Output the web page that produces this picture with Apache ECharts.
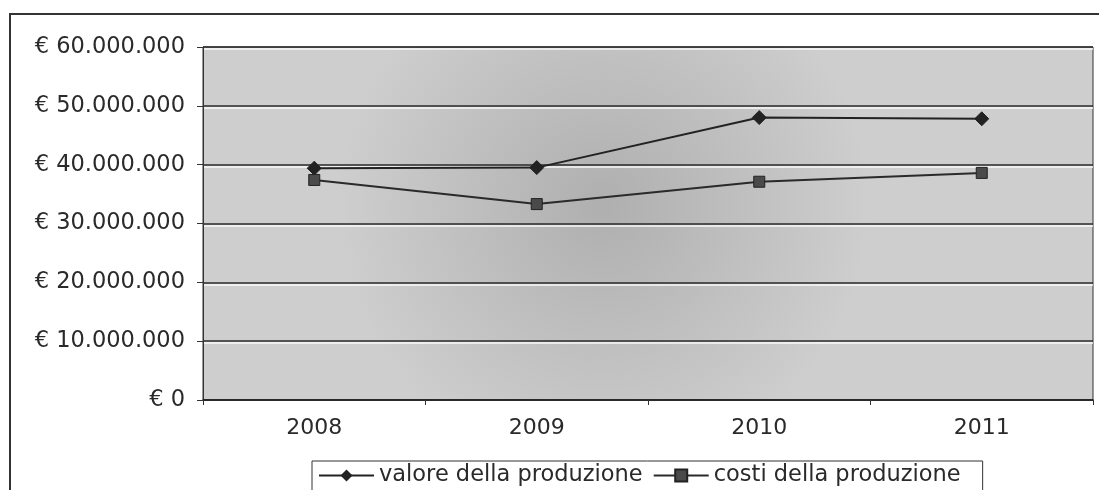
<!DOCTYPE html>
<html>
<head>
<meta charset="utf-8">
<script src="https://cdn.jsdelivr.net/npm/echarts@6/dist/echarts.min.js"></script>
<style>
  html, body { margin: 0; padding: 0; background: #fff; }
  #chart { width: 1099px; height: 490px; }
</style>
</head>
<body>
<div id="chart"></div>
<script>
// Values (euro)
const years = ['2008', '2009', '2010', '2011'];
const valoreProduzione = [39400000, 39500000, 48000000, 47800000];
const costiProduzione = [37400000, 33300000, 37100000, 38600000];
const yMax = 60000000;
const yStep = 10000000;

const FONT = 'DejaVu Sans, Verdana, sans-serif';
const INK = '#2a2a2a';

// Italian thousands separator: € 60.000.000
const euro = (v) => '€ ' + String(v).replace(/\B(?=(\d{3})+(?!\d))/g, '.');

const chart = echarts.init(document.getElementById('chart'));
chart.setOption({
  animation: false,
  backgroundColor: '#fff',
  textStyle: { fontFamily: FONT, color: INK },
  graphic: [{
    // outer chart frame (only top and left edges visible in the scan)
    type: 'rect',
    shape: { x: 10, y: 14, width: 1200, height: 600 },
    style: { fill: 'none', stroke: '#333', lineWidth: 2 },
    silent: true,
  }],
  grid: {
    left: 203, right: 6, top: 47, bottom: 90,
    show: true,
    borderColor: '#333',
    borderWidth: 1,
    backgroundColor: {
      type: 'radial', x: 0.45, y: 0.45, r: 0.75,
      colorStops: [
        { offset: 0, color: '#afafaf' },
        { offset: 1, color: '#cecece' },
      ],
    },
  },
  legend: {
    left: 312,
    top: 461,
    itemWidth: 55,
    itemHeight: 15,
    itemGap: 10,
    padding: [3, 22, 8, 6],
    borderColor: '#333',
    borderWidth: 1,
    backgroundColor: '#fff',
    textStyle: { fontFamily: FONT, fontSize: 22.5, color: INK },
    data: ['valore della produzione', 'costi della produzione'],
  },
  xAxis: {
    type: 'category',
    data: years,
    boundaryGap: true,
    axisLine: { lineStyle: { color: '#222', width: 1.5 } },
    axisTick: { show: true, length: 5, lineStyle: { color: '#333' } },
    axisLabel: { fontFamily: FONT, fontSize: 22, color: INK, margin: 17 },
  },
  yAxis: {
    type: 'value',
    min: 0,
    max: yMax,
    interval: yStep,
    axisLine: { show: true, lineStyle: { color: '#333' } },
    axisTick: { show: true, length: 6, lineStyle: { color: '#333' } },
    axisLabel: { fontFamily: FONT, fontSize: 22.5, color: INK, margin: 18, formatter: euro },
    splitLine: {
      lineStyle: {
        color: '#2a2a2a', width: 1.5,
        shadowColor: 'rgba(255,255,255,0.9)', shadowOffsetY: 2, shadowBlur: 0,
      },
    },
  },
  series: [
    {
      name: 'valore della produzione',
      type: 'line',
      data: valoreProduzione,
      symbol: 'diamond',
      symbolSize: 14,
      lineStyle: { color: '#222', width: 2 },
      itemStyle: { color: '#222', borderColor: '#222' },
    },
    {
      name: 'costi della produzione',
      type: 'line',
      data: costiProduzione,
      symbol: 'rect',
      symbolSize: 11,
      lineStyle: { color: '#2a2a2a', width: 2 },
      itemStyle: { color: '#4a4a4a', borderColor: '#222', borderWidth: 1 },
    },
  ],
});
</script>
</body>
</html>
